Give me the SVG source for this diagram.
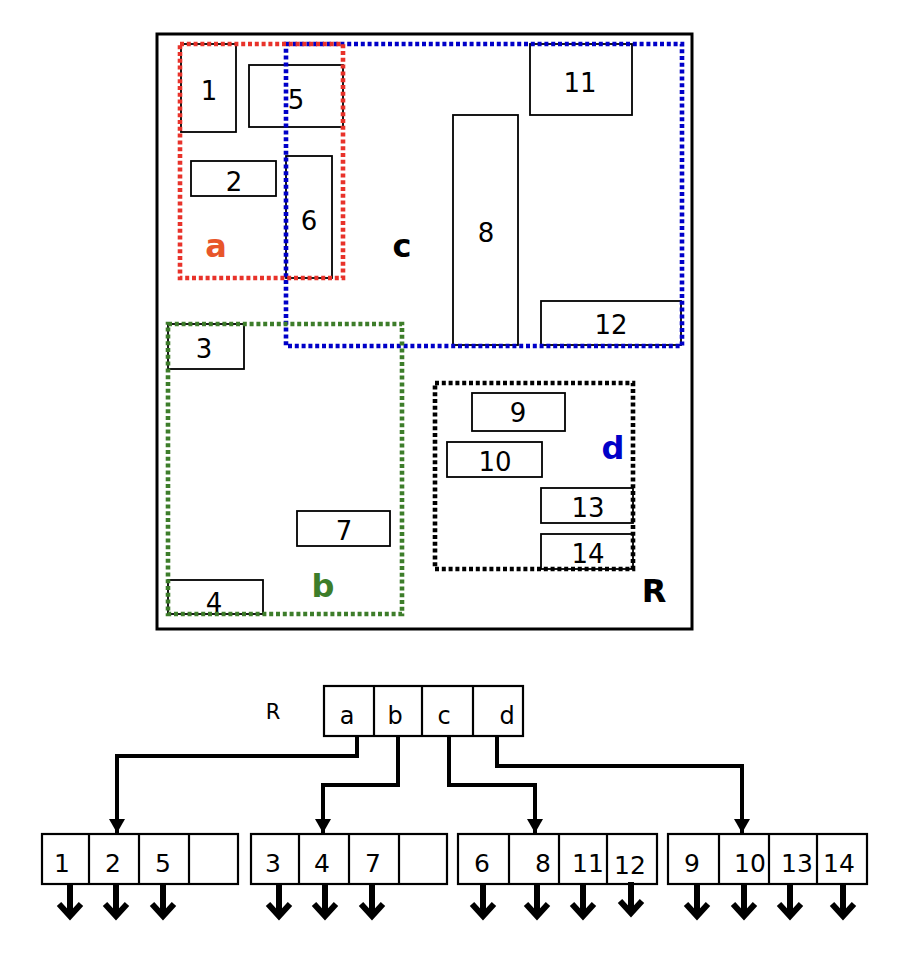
<svg xmlns="http://www.w3.org/2000/svg" width="922" height="962" viewBox="0 0 922 962">
<style>
.bg{fill:#fff}
.r{fill:none;stroke:#000;stroke-width:1.8}
.box{fill:#fff;stroke:#000;stroke-width:2.2}
.dot{fill:none;stroke-width:4.6;stroke-dasharray:4 2.8}
.t{font-family:"DejaVu Sans",Verdana,sans-serif;font-size:26px;text-anchor:middle;fill:#000}
.tl{font-family:"DejaVu Sans",Verdana,sans-serif;font-size:25px;text-anchor:middle;fill:#000}
.ts{font-family:"DejaVu Sans",Verdana,sans-serif;font-size:24px;text-anchor:middle;fill:#000}
.tb{font-family:"DejaVu Sans",Verdana,sans-serif;font-size:32px;font-weight:bold;text-anchor:middle}
.conn{fill:none;stroke:#000;stroke-width:4}
.dn{fill:none;stroke:#000;stroke-width:6;stroke-linejoin:miter}
</style>
<defs>
<marker id="ah" markerUnits="userSpaceOnUse" markerWidth="16" markerHeight="18" refX="14" refY="8" orient="auto" overflow="visible">
<path d="M0,0 L14,8 L0,16 Z" fill="#000"/>
</marker>
<path id="down" d="M0,0 V31 M-11,19 L0,31 L11,19"/>
</defs>
<rect class="bg" x="0" y="0" width="922" height="962"/>

<g id="region-R">
<rect x="157" y="34" width="535" height="595" fill="none" stroke="#000" stroke-width="3"/>
<text class="tb" x="654" y="602" fill="#000">R</text>
</g>

<g id="rect-1"><rect class="r" x="181" y="44" width="55" height="88"/><text class="t" x="209" y="100">1</text></g>
<g id="rect-5"><rect class="r" x="249" y="65" width="94" height="62"/><text class="t" x="296" y="109">5</text></g>
<g id="rect-2"><rect class="r" x="191" y="161" width="85" height="35"/><text class="t" x="234" y="191">2</text></g>
<g id="rect-6"><rect class="r" x="286" y="156" width="46" height="122"/><text class="t" x="309" y="230">6</text></g>
<g id="rect-8"><rect class="r" x="453" y="115" width="65" height="230"/><text class="t" x="486" y="242">8</text></g>
<g id="rect-11"><rect class="r" x="530" y="44" width="102" height="71"/><text class="t" x="580" y="92">11</text></g>
<g id="rect-12"><rect class="r" x="541" y="301" width="140" height="44"/><text class="t" x="611" y="334">12</text></g>
<g id="rect-3"><rect class="r" x="168" y="324" width="76" height="45"/><text class="t" x="204" y="358">3</text></g>
<g id="rect-7"><rect class="r" x="297" y="511" width="93" height="35"/><text class="t" x="344" y="540">7</text></g>
<g id="rect-4"><rect class="r" x="168" y="580" width="95" height="34"/><text class="t" x="214" y="612">4</text></g>
<g id="rect-9"><rect class="r" x="472" y="393" width="93" height="38"/><text class="t" x="518" y="422">9</text></g>
<g id="rect-10"><rect class="r" x="447" y="442" width="95" height="35"/><text class="t" x="495" y="471">10</text></g>
<g id="rect-13"><rect class="r" x="541" y="488" width="92" height="35"/><text class="t" x="588" y="517">13</text></g>
<g id="rect-14"><rect class="r" x="541" y="534" width="92" height="35"/><text class="t" x="588" y="563">14</text></g>

<g id="region-c">
<rect class="dot" x="286" y="44" width="396" height="302" stroke="#0000c8"/>
<text class="tb" x="402" y="257" fill="#000">c</text>
</g>
<g id="region-a">
<rect class="dot" x="180" y="44" width="163" height="234" stroke="#e8322a"/>
<text class="tb" x="216" y="257" fill="#e8562a">a</text>
</g>
<g id="region-b">
<rect class="dot" x="168" y="324" width="234" height="290" stroke="#3d7d2a"/>
<text class="tb" x="323" y="597" fill="#3d7d2a">b</text>
</g>
<g id="region-d">
<rect class="dot" x="435" y="383" width="198" height="186" stroke="#000"/>
<text class="tb" x="613" y="459" fill="#0000c8">d</text>
</g>

<g id="root">
<text class="ts" x="273" y="719" style="font-size:21px">R</text>
<rect class="box" x="324" y="686" width="199" height="50"/>
<line class="box" x1="374" y1="686" x2="374" y2="736"/>
<line class="box" x1="422" y1="686" x2="422" y2="736"/>
<line class="box" x1="473" y1="686" x2="473" y2="736"/>
<text class="ts" x="347" y="724">a</text>
<text class="ts" x="395" y="724">b</text>
<text class="ts" x="444" y="724">c</text>
<text class="ts" x="507" y="724">d</text>
</g>

<g id="leaf-1">
<rect class="box" x="42" y="834" width="196" height="50"/>
<line class="box" x1="89" y1="834" x2="89" y2="884"/>
<line class="box" x1="139" y1="834" x2="139" y2="884"/>
<line class="box" x1="189" y1="834" x2="189" y2="884"/>
<text class="tl" x="62" y="872">1</text>
<text class="tl" x="113" y="872">2</text>
<text class="tl" x="163" y="872">5</text>
</g>
<g id="leaf-2">
<rect class="box" x="251" y="834" width="196" height="50"/>
<line class="box" x1="299" y1="834" x2="299" y2="884"/>
<line class="box" x1="349" y1="834" x2="349" y2="884"/>
<line class="box" x1="399" y1="834" x2="399" y2="884"/>
<text class="tl" x="273" y="872">3</text>
<text class="tl" x="322" y="872">4</text>
<text class="tl" x="373" y="872">7</text>
</g>
<g id="leaf-3">
<rect class="box" x="458" y="834" width="199" height="50"/>
<line class="box" x1="509" y1="834" x2="509" y2="884"/>
<line class="box" x1="559" y1="834" x2="559" y2="884"/>
<line class="box" x1="607" y1="834" x2="607" y2="884"/>
<text class="tl" x="482" y="872">6</text>
<text class="tl" x="543" y="872">8</text>
<text class="tl" x="588" y="872">11</text>
<text class="tl" x="630" y="874">12</text>
</g>
<g id="leaf-4">
<rect class="box" x="668" y="834" width="199" height="50"/>
<line class="box" x1="719" y1="834" x2="719" y2="884"/>
<line class="box" x1="769" y1="834" x2="769" y2="884"/>
<line class="box" x1="817" y1="834" x2="817" y2="884"/>
<text class="tl" x="692" y="872">9</text>
<text class="tl" x="750" y="872">10</text>
<text class="tl" x="797" y="872">13</text>
<text class="tl" x="839" y="872">14</text>
</g>

<g id="connectors">
<path class="conn" d="M357,736 V756 H117 V833" marker-end="url(#ah)"/>
<path class="conn" d="M398,736 V785 H323 V833" marker-end="url(#ah)"/>
<path class="conn" d="M449,736 V785 H535 V833" marker-end="url(#ah)"/>
<path class="conn" d="M497,736 V766 H742 V833" marker-end="url(#ah)"/>
<g class="dn">
<use href="#down" x="70" y="885"/>
<use href="#down" x="116" y="885"/>
<use href="#down" x="163" y="885"/>
<use href="#down" x="279" y="885"/>
<use href="#down" x="325" y="885"/>
<use href="#down" x="372" y="885"/>
<use href="#down" x="483" y="885"/>
<use href="#down" x="537" y="885"/>
<use href="#down" x="583" y="885"/>
<use href="#down" x="631" y="882"/>
<use href="#down" x="697" y="885"/>
<use href="#down" x="744" y="885"/>
<use href="#down" x="790" y="885"/>
<use href="#down" x="843" y="885"/>
</g>
</g>
</svg>
